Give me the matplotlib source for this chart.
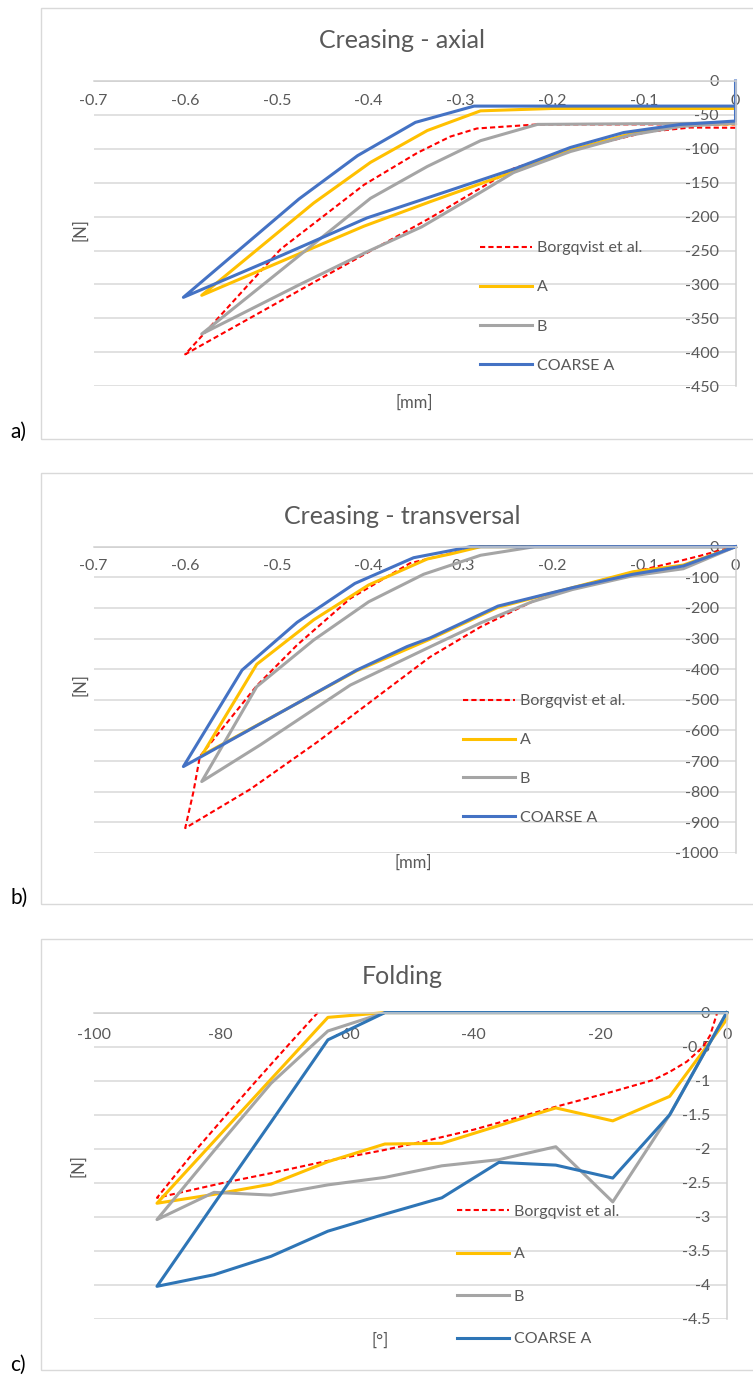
import matplotlib
matplotlib.use("Agg")
import matplotlib.pyplot as plt
from matplotlib.patches import Rectangle

plt.rcParams["font.family"] = ["Lato", "DejaVu Sans"]
plt.rcParams["axes.unicode_minus"] = False

W, H = 753, 1381

# --- a) Creasing - axial: displacement [mm] vs force [N]
a_borg_x = [0, -0.049, -0.096, -0.18, -0.242, -0.333, -0.456, -0.6,
            -0.496, -0.405, -0.347, -0.311, -0.282, -0.216, 0]
a_borg_y = [-69, -68.6, -75, -102, -129, -202, -294, -403,
            -248, -153, -106, -82, -70, -64, -64]
a_A_x = [0, -0.06, -0.115, -0.18, -0.24, -0.333, -0.405, -0.582,
         -0.46, -0.398, -0.336, -0.278, -0.2, 0]
a_A_y = [-63, -65, -78, -102, -133, -178, -214, -316,
         -180, -120, -73, -44, -40.5, -40.5]
a_B_x = [0, -0.06, -0.115, -0.18, -0.242, -0.279, -0.342, -0.402, -0.475, -0.582,
         -0.398, -0.336, -0.278, -0.216, 0]
a_B_y = [-62, -67, -80, -104, -135, -165, -215, -252, -300, -373,
         -173, -126, -88, -64, -62]
a_coarse_x = [0, 0, -0.06, -0.122, -0.18, -0.24, -0.333, -0.402, -0.493, -0.602,
              -0.476, -0.412, -0.349, -0.285, -0.2, 0]
a_coarse_y = [0, -59, -64, -76, -98, -129, -171, -202, -256, -319,
              -174, -110, -61, -37, -37, -37]

# --- b) Creasing - transversal
b_borg_x = [0, -0.013, -0.039, -0.068, -0.112, -0.178, -0.222, -0.278, -0.333,
            -0.384, -0.456, -0.529, -0.6, -0.591, -0.584, -0.522, -0.478, -0.42,
            -0.355, -0.311, -0.28, 0]
b_borg_y = [0, -9, -30, -52, -83, -134, -180, -262, -360,
            -475, -638, -792, -919, -800, -685, -454, -321, -169,
            -54, -22, 0, 0]
b_A_x = [0, -0.057, -0.112, -0.178, -0.259, -0.333, -0.413, -0.582,
         -0.522, -0.46, -0.4, -0.336, -0.311, -0.278, 0]
b_A_y = [0, -60, -82, -134, -198, -302, -405, -682,
         -384, -239, -125, -40, -24, 0, 0]
b_B_x = [0, -0.057, -0.112, -0.178, -0.222, -0.278, -0.333, -0.42, -0.518, -0.582,
         -0.522, -0.46, -0.4, -0.34, -0.278, -0.219, 0]
b_B_y = [0, -72, -95, -140, -180, -249, -327, -452, -647, -767,
         -457, -305, -180, -90, -28, 0, 0]
b_coarse_x = [0, -0.057, -0.112, -0.178, -0.259, -0.333, -0.358, -0.413, -0.602,
              -0.538, -0.478, -0.415, -0.351, -0.311, -0.289, 0]
b_coarse_y = [0, -63, -90, -134, -194, -298, -326, -403, -718,
              -403, -247, -120, -36, -13, 0, 0]

# --- c) Folding: angle [deg] vs force [N]
c_borg_x = [-64.6, -69, -74.3, -79.5, -84.8, -90,
            -79.5, -72.1, -63.7, -54.2, -46.9, -40, -26.9, -18, -11.6, -9,
            -6.3, -3.7, -2.6, -1.5]
c_borg_y = [0, -0.45, -1.0, -1.55, -2.12, -2.72,
            -2.5, -2.36, -2.19, -2.02, -1.87, -1.72, -1.38, -1.16, -0.99, -0.87,
            -0.72, -0.5, -0.33, 0]
c_deg = [0, 0, -9, -18, -27, -36, -45, -54, -63, -72, -81, -90,
         -81, -72, -63, -54, -45, -36, -27, -18, -9, 0]
c_A_y = [0, -0.1, -1.23, -1.59, -1.40, -1.66, -1.92, -1.93, -2.19, -2.52, -2.67, -2.80,
         -1.89, -0.98, -0.07, 0, 0, 0, 0, 0, 0, 0]
c_B_y = [0, 0, -1.50, -2.78, -1.97, -2.16, -2.25, -2.42, -2.53, -2.68, -2.64, -3.04,
         -2.03, -1.04, -0.27, 0, 0, 0, 0, 0, 0, 0]
c_coarse_y = [0, 0, -1.50, -2.43, -2.24, -2.20, -2.72, -2.96, -3.21, -3.58, -3.85, -4.02,
              -2.81, -1.61, -0.40, 0, 0, 0, 0, 0, 0, 0]

mm_ticks = [-0.7, -0.6, -0.5, -0.4, -0.3, -0.2, -0.1, 0]
mm_labels = ["-0.7", "-0.6", "-0.5", "-0.4", "-0.3", "-0.2", "-0.1", "0"]
a_yticks = [0, -50, -100, -150, -200, -250, -300, -350, -400, -450]
b_yticks = [0, -100, -200, -300, -400, -500, -600, -700, -800, -900, -1000]
c_xticks = [-100, -80, -60, -40, -20, 0]
c_yticks = [0, -0.5, -1, -1.5, -2, -2.5, -3, -3.5, -4, -4.5]
c_ylabels = ["0", "-0.5", "-1", "-1.5", "-2", "-2.5", "-3", "-3.5", "-4", "-4.5"]

names = ["Borgqvist et al.", "A", "B", "COARSE A"]

RED = "#FF0000"
YELLOW = "#FFC000"
GRAY = "#A5A5A5"
BLUE = "#4472C4"
BLUE_C = "#2E75B6"
TXT = "#595959"
GRID = "#D9D9D9"


def fx(px):
    return px / W


def fy(py):
    return 1 - py / H


fig = plt.figure(figsize=(W / 100, H / 100), dpi=100)


def make_axes(left, right, top, bottom, xlim, ylim, xticks, xlabels, yticks, ylabels, xpad):
    ax = fig.add_axes([fx(left), fy(bottom), fx(right) - fx(left), fy(top) - fy(bottom)])
    ax.set_xlim(*xlim)
    ax.set_ylim(*ylim)
    ax.set_xticks(xticks)
    ax.set_xticklabels(xlabels)
    ax.set_yticks(yticks)
    ax.set_yticklabels(ylabels)
    ax.yaxis.grid(True, color=GRID, lw=1.1)
    ax.set_axisbelow(True)
    for s in ["top", "right"]:
        ax.spines[s].set_visible(False)
    ax.spines["left"].set_position(("data", 0))
    ax.spines["bottom"].set_position(("data", 0))
    for s in ["left", "bottom"]:
        ax.spines[s].set_color("#D0D0D0")
        ax.spines[s].set_linewidth(1.1)
    ax.tick_params(axis="both", length=0, labelsize=11.5, labelcolor=TXT)
    ax.tick_params(axis="x", pad=xpad)
    ax.tick_params(axis="y", pad=12)
    return ax


def draw(ax, xs, ys, blue):
    lines = []
    lines += ax.plot(xs[0], ys[0], color=RED, lw=1.5, ls=(0, (2.5, 1.5)), clip_on=False)
    lines += ax.plot(xs[1], ys[1], color=YELLOW, lw=2.2, clip_on=False)
    lines += ax.plot(xs[2], ys[2], color=GRAY, lw=2.2, clip_on=False)
    lines += ax.plot(xs[3], ys[3], color=blue, lw=2.2, clip_on=False)
    return lines


def add_legend(ax, lines, left, mid_y, spacing):
    ax.legend(lines, names, loc="center left", bbox_to_anchor=(fx(left), fy(mid_y)),
              bbox_transform=fig.transFigure, frameon=False, fontsize=11.5,
              handlelength=3.25, handletextpad=0.3, borderpad=0, borderaxespad=0,
              labelspacing=spacing, labelcolor=TXT)


def frame(top, bottom):
    fig.add_artist(Rectangle((fx(41), fy(bottom)), 1.2, fy(top) - fy(bottom),
                             transform=fig.transFigure, fill=False, ec=GRID, lw=1.0))


# a) axial
frame(8, 439)
ax = make_axes(93.5, 735.5, 81, 386.2, (-0.7, 0), (-450, 0), mm_ticks, mm_labels,
               a_yticks, [str(v) for v in a_yticks], 9.5)
ln = draw(ax, [a_borg_x, a_A_x, a_B_x, a_coarse_x], [a_borg_y, a_A_y, a_B_y, a_coarse_y], BLUE)
add_legend(ax, ln, 480, 307, 1.57)
fig.text(fx(402), fy(40), "Creasing - axial", ha="center", va="center", fontsize=18, color=TXT)
fig.text(fx(80), fy(230), "[N]", ha="center", va="center", rotation=90, fontsize=12, color=TXT)
fig.text(fx(414), fy(403), "[mm]", ha="center", va="center", fontsize=12, color=TXT)
fig.text(fx(10), fy(432), "a)", ha="left", va="center", fontsize=15, color="black")

# b) transversal
frame(472.7, 904)
ax = make_axes(93.5, 735.5, 546.7, 852.9, (-0.7, 0), (-1000, 0), mm_ticks, mm_labels,
               b_yticks, [str(v) for v in b_yticks], 9)
ln = draw(ax, [b_borg_x, b_A_x, b_B_x, b_coarse_x], [b_borg_y, b_A_y, b_B_y, b_coarse_y], BLUE)
add_legend(ax, ln, 463, 759.5, 1.55)
fig.text(fx(402), fy(517), "Creasing - transversal", ha="center", va="center", fontsize=18, color=TXT)
fig.text(fx(80), fy(685), "[N]", ha="center", va="center", rotation=90, fontsize=12, color=TXT)
fig.text(fx(413), fy(863), "[mm]", ha="center", va="center", fontsize=12, color=TXT)
fig.text(fx(10), fy(898), "b)", ha="left", va="center", fontsize=15, color="black")

# c) folding
frame(939, 1370)
ax = make_axes(93.7, 726.7, 1012.6, 1319, (-100, 0), (-4.5, 0), c_xticks,
               [str(v) for v in c_xticks], c_yticks, c_ylabels, 11)
ln = draw(ax, [c_borg_x, c_deg, c_deg, c_deg], [c_borg_y, c_A_y, c_B_y, c_coarse_y], BLUE_C)
add_legend(ax, ln, 457, 1275.4, 1.78)
fig.text(fx(402), fy(977), "Folding", ha="center", va="center", fontsize=18, color=TXT)
fig.text(fx(78), fy(1166), "[N]", ha="center", va="center", rotation=90, fontsize=12, color=TXT)
fig.text(fx(380), fy(1341), "[°]", ha="center", va="center", fontsize=12, color=TXT)
fig.text(fx(10), fy(1365), "c)", ha="left", va="center", fontsize=15, color="black")

fig.savefig("out.png", dpi=100)
